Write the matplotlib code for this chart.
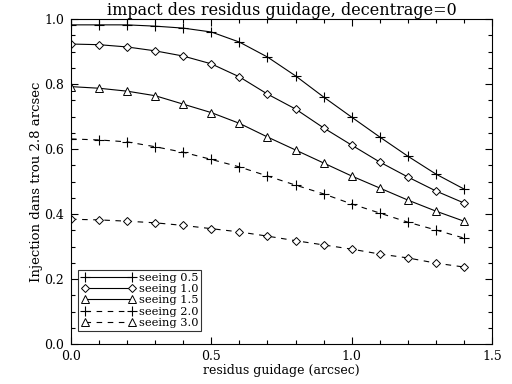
import numpy as np
import matplotlib
matplotlib.use('Agg')
import matplotlib.pyplot as plt
from matplotlib.lines import Line2D
from matplotlib.ticker import MultipleLocator, FormatStrFormatter

# residus de guidage (arcsec)
residus = [0.0, 0.1, 0.2, 0.3, 0.4, 0.5, 0.6, 0.7, 0.8, 0.9, 1.0, 1.1, 1.2, 1.3, 1.4]

# injection dans le trou pour chaque seeing
inj_05 = [0.982, 0.982, 0.982, 0.978, 0.972, 0.960, 0.929, 0.883, 0.825, 0.760,
          0.698, 0.637, 0.578, 0.523, 0.477]
inj_10 = [0.923, 0.921, 0.914, 0.902, 0.886, 0.862, 0.822, 0.769, 0.723, 0.665,
          0.612, 0.560, 0.514, 0.471, 0.434]
inj_15 = [0.792, 0.787, 0.778, 0.764, 0.738, 0.712, 0.679, 0.637, 0.597, 0.557,
          0.517, 0.480, 0.443, 0.409, 0.378]
inj_20 = [0.631, 0.628, 0.622, 0.607, 0.590, 0.568, 0.545, 0.517, 0.489, 0.462,
          0.431, 0.403, 0.375, 0.351, 0.326]
inj_30 = [0.384, 0.382, 0.378, 0.373, 0.365, 0.355, 0.345, 0.332, 0.318, 0.305,
          0.292, 0.277, 0.265, 0.249, 0.237]

labels = ['seeing 0.5', 'seeing 1.0', 'seeing 1.5', 'seeing 2.0', 'seeing 3.0']

plt.rcParams['font.family'] = ['DejaVu Serif']

fig = plt.figure(figsize=(5.12, 3.84), dpi=100)
ax = fig.add_axes([0.1387, 0.104, 0.8223, 0.8465])

lw = 0.8
ax.plot(residus, inj_05, '-', color='k', lw=lw, marker='+', ms=7, mew=0.8)
ax.plot(residus, inj_10, '-', color='k', lw=lw, marker='D', ms=4, mfc='white', mew=0.7)
ax.plot(residus, inj_15, '-', color='k', lw=lw, marker='^', ms=6, mfc='white', mew=0.7)
ax.plot(residus, inj_20, '--', color='k', lw=lw, marker='+', ms=7, mew=0.8, dashes=(5, 5))
ax.plot(residus, inj_30, '--', color='k', lw=lw, marker='D', ms=4, mfc='white', mew=0.7, dashes=(5, 5))

# la legende du graphe original montre des triangles pour seeing 3.0
handles = [
    Line2D([], [], color='k', lw=lw, marker='+', ms=7, mew=0.8),
    Line2D([], [], color='k', lw=lw, marker='D', ms=4, mfc='white', mew=0.7),
    Line2D([], [], color='k', lw=lw, marker='^', ms=6, mfc='white', mew=0.7),
    Line2D([], [], color='k', lw=lw, ls='--', marker='+', ms=7, mew=0.8, dashes=(5, 5)),
    Line2D([], [], color='k', lw=lw, ls='--', marker='^', ms=6, mfc='white', mew=0.7, dashes=(5, 5)),
]
leg = ax.legend(handles, labels, loc='lower left', bbox_to_anchor=(0.017, 0.04),
                borderaxespad=0, frameon=True, fancybox=False, fontsize=8.2,
                handlelength=4.7, handletextpad=0.3, labelspacing=0.1,
                borderpad=0.3, numpoints=2)
leg.get_frame().set_edgecolor('k')
leg.get_frame().set_linewidth(0.8)

ax.set_xlim(0, 1.5)
ax.set_ylim(0, 1.0)
ax.xaxis.set_major_locator(MultipleLocator(0.5))
ax.xaxis.set_minor_locator(MultipleLocator(0.1))
ax.yaxis.set_major_locator(MultipleLocator(0.2))
ax.yaxis.set_minor_locator(MultipleLocator(0.05))
ax.xaxis.set_major_formatter(FormatStrFormatter('%.1f'))
ax.yaxis.set_major_formatter(FormatStrFormatter('%.1f'))
ax.tick_params(which='both', direction='in', top=True, right=True, width=0.8,
               labelsize=9)
ax.tick_params(which='major', length=5)
ax.tick_params(which='minor', length=3)
ax.tick_params(axis='y', pad=5)
ax.tick_params(axis='x', pad=4)
for s in ax.spines.values():
    s.set_linewidth(0.8)

ax.set_title('impact des residus guidage, decentrage=0', fontsize=11.5, pad=2)
ax.set_xlabel('residus guidage (arcsec)', fontsize=9, labelpad=1)
ax.set_ylabel('Injection dans trou 2.8 arcsec', fontsize=9.5, labelpad=1)

fig.savefig('out.png', dpi=100)
